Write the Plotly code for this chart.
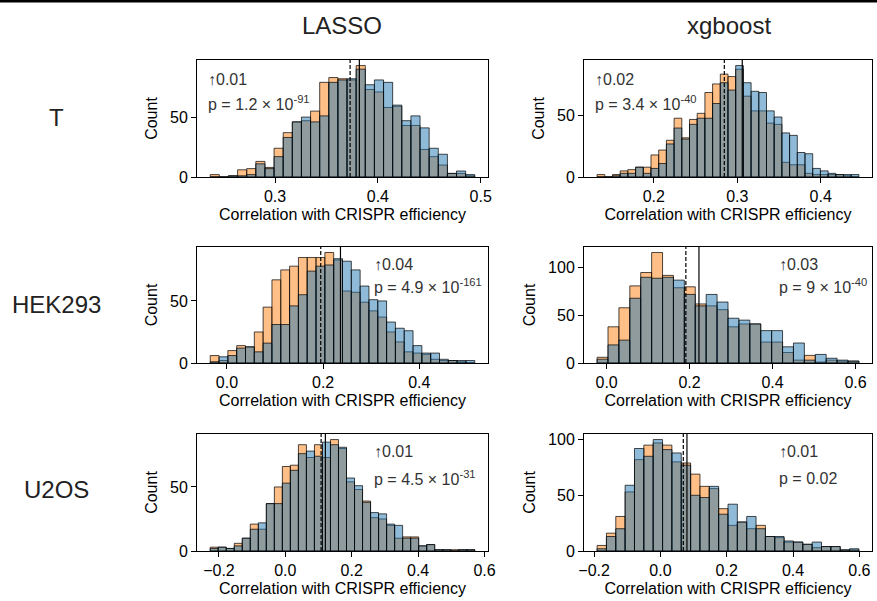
import plotly.graph_objects as go

# ---------------- data ----------------
row_labels = ["T", "HEK293", "U2OS"]
col_labels = ["LASSO", "xgboost"]
x_title = "Correlation with CRISPR efficiency"
y_title = "Count"

# Histogram counts (orange = baseline, blue = model), common bins per panel
T_LASSO_bin_start, T_LASSO_bin_width = 0.237, 0.00887
T_LASSO_orange = [2, 0, 1, 6, 7, 13, 8, 24, 37, 46, 47, 55, 79, 83, 82, 81, 93, 73, 71, 58, 59, 43, 43, 23, 17, 10, 3, 3, 1]
T_LASSO_blue = [0, 0, 1, 1, 2, 11, 7, 17, 33, 46, 50, 46, 51, 79, 81, 82, 90, 77, 81, 79, 60, 47, 51, 41, 24, 19, 3, 5, 2]
T_LASSO_means = (0.373, 0.382)

T_XGB_bin_start, T_XGB_bin_width = 0.132, 0.00923
T_XGB_orange = [2, 0, 2, 5, 6, 8, 8, 18, 22, 30, 48, 32, 47, 52, 69, 76, 84, 82, 88, 66, 54, 54, 44, 43, 12, 10, 10, 3, 2, 2, 2, 2, 1, 0]
T_XGB_blue = [0, 0, 1, 3, 3, 8, 3, 7, 11, 27, 40, 31, 43, 48, 48, 60, 77, 71, 91, 77, 70, 69, 54, 49, 36, 34, 20, 19, 7, 5, 3, 2, 2, 2]
T_XGB_means = (0.2845, 0.306)

HEK_LASSO_bin_start, HEK_LASSO_bin_width = -0.0347, 0.01833
HEK_LASSO_orange = [6, 2, 10, 14, 13, 25, 45, 67, 75, 78, 85, 85, 85, 89, 83, 58, 57, 49, 42, 37, 25, 17, 9, 8, 7, 3, 2, 2, 1, 0]
HEK_LASSO_blue = [1, 5, 6, 12, 13, 9, 16, 31, 31, 46, 55, 74, 78, 79, 84, 82, 75, 62, 51, 50, 33, 28, 26, 14, 8, 8, 3, 2, 2, 2]
HEK_LASSO_means = (0.195, 0.236)

HEK_XGB_bin_start, HEK_XGB_bin_width = -0.023, 0.0263
HEK_XGB_orange = [6, 38, 58, 81, 95, 116, 92, 79, 80, 62, 60, 56, 38, 41, 41, 22, 22, 11, 3, 8, 1, 3, 2, 2]
HEK_XGB_blue = [4, 19, 24, 68, 90, 89, 90, 87, 72, 60, 72, 64, 47, 45, 41, 34, 34, 17, 21, 3, 9, 5, 3, 2]
HEK_XGB_means = (0.191, 0.2226)

U2OS_LASSO_bin_start, U2OS_LASSO_bin_width = -0.2263, 0.02415
U2OS_LASSO_orange = [3, 3, 2, 6, 10, 21, 17, 37, 50, 66, 67, 83, 73, 83, 73, 87, 80, 54, 48, 39, 26, 25, 20, 10, 11, 11, 4, 5, 1, 1, 1, 1, 1]
U2OS_LASSO_blue = [2, 3, 2, 4, 10, 17, 22, 37, 37, 53, 63, 76, 78, 74, 85, 83, 81, 57, 51, 38, 30, 29, 21, 20, 10, 10, 4, 5, 1, 1, 0, 1, 1]
U2OS_LASSO_means = (0.1077, 0.1206)

U2OS_XGB_bin_start, U2OS_XGB_bin_width = -0.191, 0.0282
U2OS_XGB_orange = [5, 16, 31, 53, 82, 95, 97, 95, 80, 79, 69, 58, 56, 38, 23, 26, 20, 23, 13, 12, 8, 8, 6, 3, 4, 4, 1, 1]
U2OS_XGB_blue = [2, 13, 20, 59, 92, 85, 100, 91, 88, 77, 50, 48, 58, 33, 42, 26, 31, 20, 13, 13, 9, 8, 6, 8, 4, 4, 1, 2]
U2OS_XGB_means = (0.069, 0.080)

improvements = ["0.01", "0.02", "0.04", "0.03", "0.01", "0.01"]
p_values = ["1.2 × 10<sup>-91</sup>", "3.4 × 10<sup>-40</sup>", "4.9 × 10<sup>-161</sup>",
            "9 × 10<sup>-40</sup>", "4.5 × 10<sup>-31</sup>", "0.02"]

panels = [
    (T_LASSO_bin_start, T_LASSO_bin_width, T_LASSO_orange, T_LASSO_blue, T_LASSO_means),
    (T_XGB_bin_start, T_XGB_bin_width, T_XGB_orange, T_XGB_blue, T_XGB_means),
    (HEK_LASSO_bin_start, HEK_LASSO_bin_width, HEK_LASSO_orange, HEK_LASSO_blue, HEK_LASSO_means),
    (HEK_XGB_bin_start, HEK_XGB_bin_width, HEK_XGB_orange, HEK_XGB_blue, HEK_XGB_means),
    (U2OS_LASSO_bin_start, U2OS_LASSO_bin_width, U2OS_LASSO_orange, U2OS_LASSO_blue, U2OS_LASSO_means),
    (U2OS_XGB_bin_start, U2OS_XGB_bin_width, U2OS_XGB_orange, U2OS_XGB_blue, U2OS_XGB_means),
]

# ---------------- layout / style ----------------
W, H = 877, 601
FONT = "Liberation Sans, Arial, Helvetica, sans-serif"
col_px = [(197, 488), (584, 872)]
row_px = [(60, 177), (247, 363), (434, 551)]
x_dticks = [0.1, 0.1, 0.2, 0.2, 0.2, 0.2]
# annotation anchor positions within each panel (domain fraction): x, y of line1, y of line2
ann_pos = [(0.03, 0.83, 0.63), (0.03, 0.83, 0.63), (0.6, 0.85, 0.66),
           (0.67, 0.85, 0.66), (0.6, 0.85, 0.62), (0.67, 0.85, 0.62)]

ORANGE_FILL = "rgba(255,127,14,0.5)"
BLUE_FILL = "rgba(31,119,180,0.5)"
EDGE = "rgba(0,0,0,0.7)"

fig = go.Figure()
layout = dict(
    width=W, height=H, margin=dict(l=0, r=0, t=0, b=0, pad=0, autoexpand=False),
    paper_bgcolor="white", plot_bgcolor="white",
    font=dict(family=FONT, size=16, color="black"),
    showlegend=False, barmode="overlay",
)
shapes = []
annotations = []

for i, (start, width, orange, blue, means) in enumerate(panels):
    r, c = divmod(i, 2)
    s = "" if i == 0 else str(i + 1)
    centers = [start + width * (k + 0.5) for k in range(len(orange))]
    for counts, fill in ((orange, ORANGE_FILL), (blue, BLUE_FILL)):
        fig.add_trace(go.Bar(
            x=centers, y=counts, width=width,
            marker=dict(color=fill, line=dict(color=EDGE, width=1)),
            xaxis="x" + s, yaxis="y" + s, hoverinfo="x+y",
        ))
    lo = start
    hi = start + width * len(orange)
    span = hi - lo
    ymax = max(max(orange), max(blue)) * 1.05
    x0p, x1p = col_px[c]
    y0p, y1p = row_px[r]
    axis_common = dict(
        showline=True, mirror=True, linecolor="black", linewidth=1,
        ticks="outside", ticklen=5, tickwidth=1, tickcolor="black",
        showgrid=False, zeroline=False, tickfont=dict(size=16),
        automargin=False,
    )
    layout["xaxis" + s] = dict(
        axis_common, domain=[x0p / W, x1p / W], anchor="y" + s,
        range=[lo - 0.05 * span, hi + 0.05 * span],
        tick0=0, dtick=x_dticks[i], tickformat=".1f",
        title=dict(text=x_title, font=dict(size=16), standoff=4),
    )
    layout["yaxis" + s] = dict(
        axis_common, domain=[1 - y1p / H, 1 - y0p / H], anchor="x" + s,
        range=[0, ymax], tick0=0, dtick=50,
        title=dict(text=y_title, font=dict(size=16), standoff=8),
    )
    # mean lines: orange (dashed) and blue (solid)
    for m, dash in zip(means, ("4px,2px", "solid")):
        shapes.append(dict(type="line", xref="x" + s, yref="y" + s + " domain",
                           x0=m, x1=m, y0=0, y1=1,
                           line=dict(color="black", width=1.2, dash=dash)))
    ax_, ay1, ay2 = ann_pos[i]
    annotations.append(dict(text="↑" + improvements[i], xref="x" + s + " domain",
                            yref="y" + s + " domain", x=ax_, y=ay1,
                            xanchor="left", yanchor="middle", showarrow=False,
                            font=dict(size=16, color="#333333")))
    annotations.append(dict(text="p = " + p_values[i], xref="x" + s + " domain",
                            yref="y" + s + " domain", x=ax_, y=ay2,
                            xanchor="left", yanchor="middle", showarrow=False,
                            font=dict(size=16, color="#333333")))

# column titles and row labels
for c, name in enumerate(col_labels):
    cx = (342, 729)[c]
    annotations.append(dict(text=name, xref="paper", yref="paper", x=cx / W, y=1 - 26 / H,
                            xanchor="center", yanchor="middle", showarrow=False,
                            font=dict(size=24, color="#222222")))
for r, name in enumerate(row_labels):
    cy = (117, 304, 489)[r]
    annotations.append(dict(text=name, xref="paper", yref="paper", x=56.5 / W, y=1 - cy / H,
                            xanchor="center", yanchor="middle", showarrow=False,
                            font=dict(size=24, color="#222222")))

# top rule
shapes.append(dict(type="line", xref="paper", yref="paper", x0=0, x1=1,
                   y0=1 - 1.2 / H, y1=1 - 1.2 / H, line=dict(color="black", width=2.5)))

layout["shapes"] = shapes
layout["annotations"] = annotations
fig.update_layout(**layout)
fig.write_html(
    "out.html",
    config={"displayModeBar": False},
    post_script="document.body.style.margin='0';document.body.style.overflow='hidden';",
)
